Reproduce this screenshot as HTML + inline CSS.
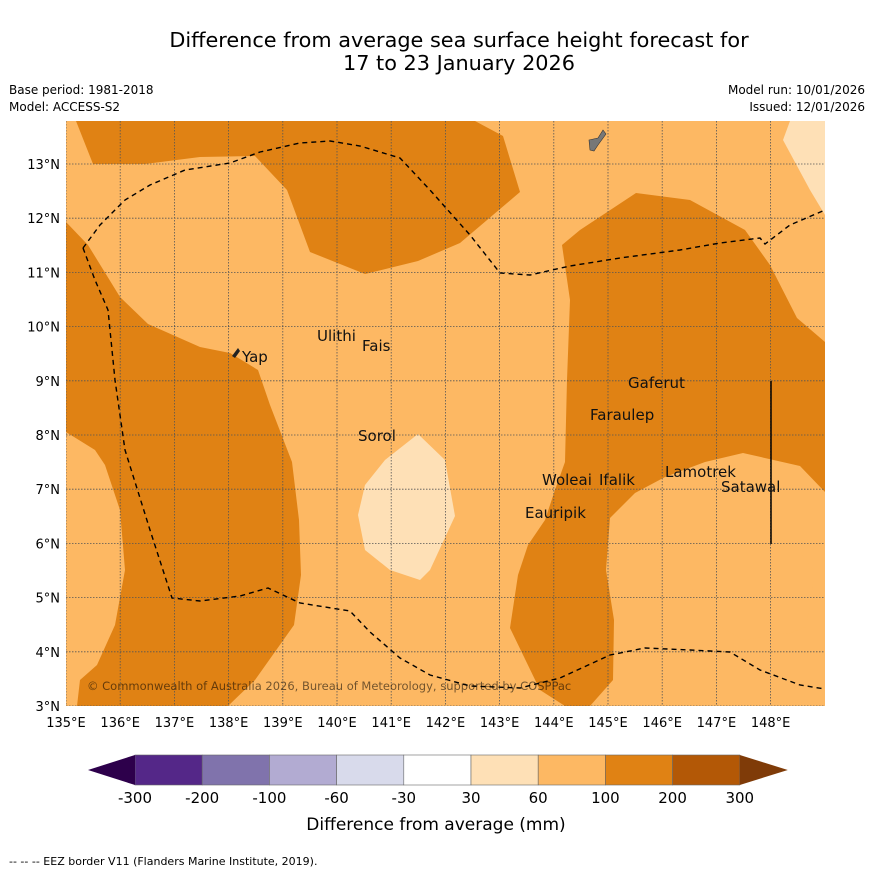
<!DOCTYPE html>
<html><head><meta charset="utf-8"><style>
body{margin:0;background:#fff;width:873px;height:873px;overflow:hidden;font-family:"Liberation Sans","DejaVu Sans",sans-serif}
svg text{font-family:"DejaVu Sans","Liberation Sans",sans-serif}
</style></head><body>
<svg width="873" height="873" viewBox="0 0 873 873">
<text x="459" y="47" font-size="20.8" text-anchor="middle">Difference from average sea surface height forecast for</text>
<text x="459" y="70" font-size="20.8" text-anchor="middle">17 to 23 January 2026</text>
<text x="9" y="94" font-size="12">Base period: 1981-2018</text>
<text x="9" y="111" font-size="12">Model: ACCESS-S2</text>
<text x="865" y="94" font-size="12" text-anchor="end">Model run: 10/01/2026</text>
<text x="865" y="111" font-size="12" text-anchor="end">Issued: 12/01/2026</text>
<defs><clipPath id="mc"><rect x="66" y="121" width="759" height="585"/></clipPath></defs>
<g clip-path="url(#mc)">
<rect x="66" y="121" width="759" height="585" fill="#fdb863"/>
<polygon fill="#e08214" points="76,121 93,164 145,164 200,157 255,156 287,190 310,252 365,274 418,261 460,243 520,192 503,136 475,121"/>
<polygon fill="#e08214" points="66,222 88,245 120,297 148,324 200,347 230,353 258,370 270,405 292,462 299,520 301,575 294,625 255,680 228,706 77,706 80,680 97,665 115,625 125,570 120,510 105,465 95,450 66,432"/>
<polygon fill="#e08214" points="562,245 580,230 636,193 690,200 745,230 770,265 797,318 825,342 825,492 800,466 743,453 705,462 665,477 635,493 610,518 606,570 614,620 613,680 590,706 565,706 540,690 510,628 518,575 528,545 545,520 555,490 565,462 567,380 570,300"/>
<polygon fill="#fdb863" points="685,560 740,516 795,545 815,572 806,627 790,633 743,640 718,625 695,595 685,572"/>
<polygon fill="#fee0b6" points="790,121 783,140 810,190 825,215 825,121"/>
<polygon fill="#fee0b6" points="418,434 445,460 455,516 430,570 420,580 390,570 365,550 358,515 365,485 385,460"/>
<g id="grid" stroke="#555" stroke-width="0.8" stroke-dasharray="1.5,1.5"></g>
<polyline fill="none" stroke="#000" stroke-width="1.4" stroke-dasharray="5,4" points="83,248 100,225 125,200 150,185 185,170 230,163 260,152 300,143 330,141 360,146 400,158 430,190 470,235 500,273 530,275 570,266 620,258 680,250 720,243 760,238 765,244 790,225 825,210"/>
<polyline fill="none" stroke="#000" stroke-width="1.4" stroke-dasharray="5,4" points="83,248 95,280 108,310 115,380 125,450 150,530 172,598 200,601 240,596 268,588 300,603 350,611 370,632 400,658 430,675 470,686 520,688 560,678 610,655 645,648 690,650 730,652 760,670 800,685 825,689"/>
<line x1="771" y1="381" x2="771" y2="544" stroke="#000" stroke-width="1.5"/>
<polygon fill="#777" stroke="#333" stroke-width="0.6" points="589,140 598,138 603,130 606,134 598,145 594,151 590,150"/>
<polygon fill="#222" points="232,356 238,348 240,351 235,358"/>
<g font-size="15" fill="#111">
<text x="317" y="341">Ulithi</text>
<text x="362" y="351">Fais</text>
<text x="242" y="362">Yap</text>
<text x="628" y="388">Gaferut</text>
<text x="590" y="420">Faraulep</text>
<text x="358" y="441">Sorol</text>
<text x="665" y="477">Lamotrek</text>
<text x="542" y="485">Woleai</text>
<text x="599" y="485">Ifalik</text>
<text x="721" y="492">Satawal</text>
<text x="525" y="518">Eauripik</text>
</g>
<text x="87" y="690" font-size="11.5" fill="#000" fill-opacity="0.55">© Commonwealth of Australia 2026, Bureau of Meteorology, supported by COSPPac</text>
</g>
<g id="axes" font-size="13"></g>
<g id="cbar"></g>
<text x="436" y="830" font-size="17" text-anchor="middle">Difference from average (mm)</text>
<text x="9" y="865" font-size="11">--  --  -- EEZ border V11 (Flanders Marine Institute, 2019).</text>
</svg>
<script>
const NS="http://www.w3.org/2000/svg";
const lonTicks=[135,136,137,138,139,140,141,142,143,144,145,146,147,148];
const latTicks=[3,4,5,6,7,8,9,10,11,12,13];
const cbLevels=["-300","-200","-100","-60","-30","30","60","100","200","300"];
const cbColors=["#542788","#8073ac","#b2abd2","#d8daeb","#ffffff","#fee0b6","#fdb863","#e08214","#b35806"];
const x=lon=>66+(lon-135)*54.2, y=lat=>706-(lat-3)*54.2;
const grid=document.getElementById('grid'),axes=document.getElementById('axes'),cb=document.getElementById('cbar');
function mk(p,tag,a){const e=document.createElementNS(NS,tag);for(const k in a)e.setAttribute(k,a[k]);p.appendChild(e);return e;}
lonTicks.forEach(l=>{
 const g=mk(grid,'line',{x1:x(l),x2:x(l),y1:121,y2:706});
 
 
 const t=mk(axes,'text',{x:x(l),y:727,'text-anchor':'middle'});t.textContent=l+'°E';
 
 
});
latTicks.forEach(l=>{
 const g=mk(grid,'line',{x1:66,x2:825,y1:y(l),y2:y(l)});
 
 
 const t=mk(axes,'text',{x:60,y:y(l)+5,'text-anchor':'end'});t.textContent=l+'°N';
 
 
});
const cx0=135,cw=67.2,cy=755,ch=30;
cbColors.forEach((c,i)=>{
 const r=mk(cb,'rect',{x:cx0+i*cw,y:cy,width:cw,height:ch,fill:c,stroke:'#666','stroke-width':0.6});
 
 
});
const lt=mk(cb,'polygon',{points:`${cx0},${cy} ${cx0-47},${cy+15} ${cx0},${cy+ch}`,fill:'#2d004b'});


const xe=cx0+cbColors.length*cw;
const rt=mk(cb,'polygon',{points:`${xe},${cy} ${xe+48},${cy+15} ${xe},${cy+ch}`,fill:'#7f3b08'});


cbLevels.forEach((v,i)=>{
 const t=mk(cb,'text',{x:cx0+i*cw,y:803,'text-anchor':'middle','font-size':15});t.textContent=v;
 
 
});
</script>
</body></html>
